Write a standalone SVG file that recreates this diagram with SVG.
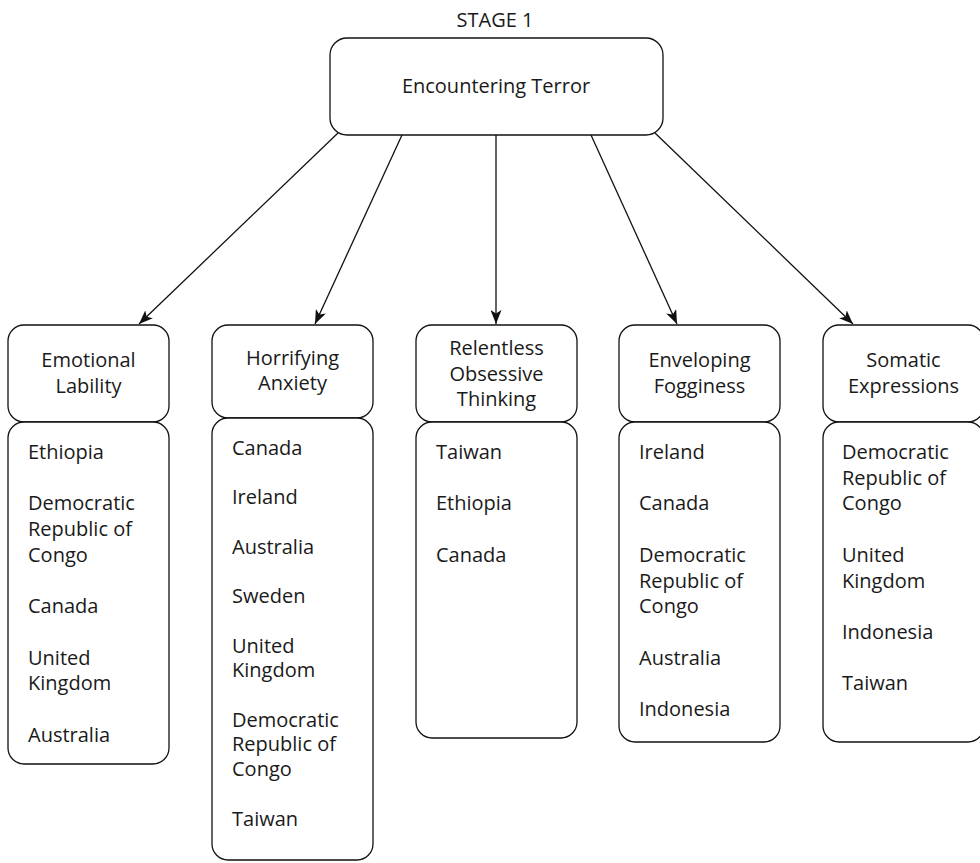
<svg xmlns="http://www.w3.org/2000/svg" width="980" height="863" viewBox="0 0 980 863">
  <style>
    .box { fill: #ffffff; stroke: #111111; stroke-width: 1.3; }
    .lbl { font-family: "Open Sans", "Noto Sans", "DejaVu Sans", sans-serif; font-size: 20px; fill: #1a1a1a; }
    .mid { text-anchor: middle; }
    .edge { stroke: #111111; stroke-width: 1.3; fill: none; marker-end: url(#arrow); }
  </style>
  <defs>
    <marker id="arrow" viewBox="0 0 14 11" refX="14" refY="5.5" markerWidth="14" markerHeight="11" markerUnits="userSpaceOnUse" orient="auto">
      <path d="M0,0 L14,5.5 L0,11 L3.5,5.5 Z" fill="#111111"/>
    </marker>
  </defs>
  <rect width="980" height="863" fill="#ffffff"/>

  <text class="lbl mid" x="495" y="27">STAGE 1</text>

  <!-- root node -->
  <g id="encountering-terror">
    <rect class="box" x="330" y="38" width="333" height="97" rx="17"/>
    <text class="lbl mid" x="496" y="93">Encountering Terror</text>
  </g>

  <!-- connectors -->
  <g id="connectors">
    <line class="edge" x1="338" y1="133" x2="139" y2="324"/>
    <line class="edge" x1="402" y1="135" x2="315" y2="324"/>
    <line class="edge" x1="496" y1="135" x2="496" y2="324"/>
    <line class="edge" x1="591" y1="135" x2="677" y2="324"/>
    <line class="edge" x1="655" y1="133" x2="853" y2="324"/>
  </g>

  <!-- Emotional Lability -->
  <g id="emotional-lability">
    <rect class="box" x="8" y="325" width="161" height="97" rx="16"/>
    <text class="lbl mid" x="88.5" y="366.7">Emotional<tspan x="88.5" dy="26">Lability</tspan></text>
    <rect class="box" x="8" y="422" width="161" height="342" rx="16"/>
    <text class="lbl" x="28" y="459">Ethiopia</text>
    <text class="lbl" x="28" y="510.4">Democratic<tspan x="28" dy="25.7">Republic of</tspan><tspan x="28" dy="25.7">Congo</tspan></text>
    <text class="lbl" x="28" y="613.2">Canada</text>
    <text class="lbl" x="28" y="664.6">United<tspan x="28" dy="25.7">Kingdom</tspan></text>
    <text class="lbl" x="28" y="741.7">Australia</text>
  </g>

  <!-- Horrifying Anxiety -->
  <g id="horrifying-anxiety">
    <rect class="box" x="212" y="325" width="161" height="93" rx="16"/>
    <text class="lbl mid" x="292.5" y="365">Horrifying<tspan x="292.5" dy="25">Anxiety</tspan></text>
    <rect class="box" x="212" y="418" width="161" height="442" rx="16"/>
    <text class="lbl" x="232" y="455">Canada</text>
    <text class="lbl" x="232" y="504.4">Ireland</text>
    <text class="lbl" x="232" y="553.8">Australia</text>
    <text class="lbl" x="232" y="603.2">Sweden</text>
    <text class="lbl" x="232" y="652.6">United<tspan x="232" dy="24.7">Kingdom</tspan></text>
    <text class="lbl" x="232" y="726.7">Democratic<tspan x="232" dy="24.7">Republic of</tspan><tspan x="232" dy="24.7">Congo</tspan></text>
    <text class="lbl" x="232" y="825.5">Taiwan</text>
  </g>

  <!-- Relentless Obsessive Thinking -->
  <g id="relentless-obsessive-thinking">
    <rect class="box" x="416" y="325" width="161" height="97" rx="16"/>
    <text class="lbl mid" x="496.5" y="355">Relentless<tspan x="496.5" dy="25.5">Obsessive</tspan><tspan x="496.5" dy="25.5">Thinking</tspan></text>
    <rect class="box" x="416" y="422" width="161" height="316" rx="16"/>
    <text class="lbl" x="436" y="459">Taiwan</text>
    <text class="lbl" x="436" y="510.4">Ethiopia</text>
    <text class="lbl" x="436" y="561.8">Canada</text>
  </g>

  <!-- Enveloping Fogginess -->
  <g id="enveloping-fogginess">
    <rect class="box" x="619" y="325" width="161" height="97" rx="16"/>
    <text class="lbl mid" x="699.5" y="366.7">Enveloping<tspan x="699.5" dy="26">Fogginess</tspan></text>
    <rect class="box" x="619" y="422" width="161" height="320" rx="16"/>
    <text class="lbl" x="639" y="459">Ireland</text>
    <text class="lbl" x="639" y="510.4">Canada</text>
    <text class="lbl" x="639" y="561.8">Democratic<tspan x="639" dy="25.7">Republic of</tspan><tspan x="639" dy="25.7">Congo</tspan></text>
    <text class="lbl" x="639" y="664.6">Australia</text>
    <text class="lbl" x="639" y="716">Indonesia</text>
  </g>

  <!-- Somatic Expressions -->
  <g id="somatic-expressions">
    <rect class="box" x="823" y="325" width="161" height="97" rx="16"/>
    <text class="lbl mid" x="903.5" y="366.7">Somatic<tspan x="903.5" dy="26">Expressions</tspan></text>
    <rect class="box" x="823" y="422" width="161" height="320" rx="16"/>
    <text class="lbl" x="842" y="459">Democratic<tspan x="842" dy="25.7">Republic of</tspan><tspan x="842" dy="25.7">Congo</tspan></text>
    <text class="lbl" x="842" y="561.8">United<tspan x="842" dy="25.7">Kingdom</tspan></text>
    <text class="lbl" x="842" y="638.9">Indonesia</text>
    <text class="lbl" x="842" y="690.3">Taiwan</text>
  </g>
</svg>
